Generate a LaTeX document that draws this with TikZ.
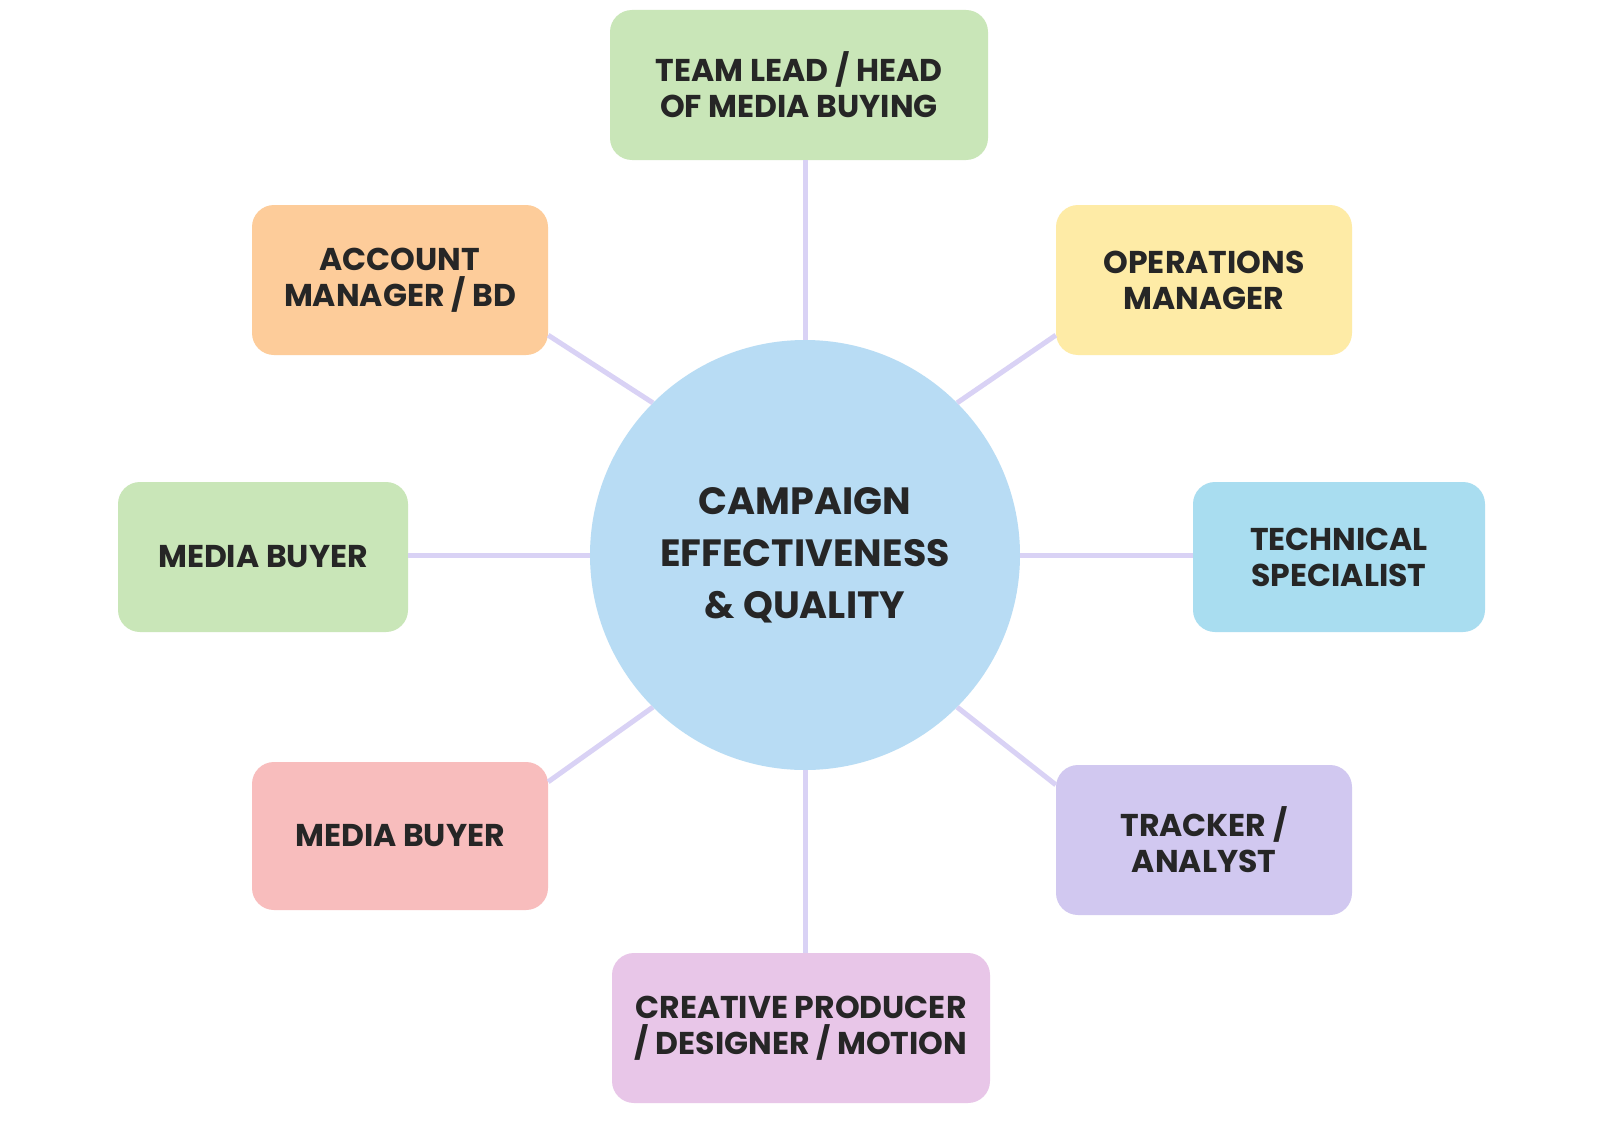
\documentclass[tikz,border=0pt]{standalone}
\usepackage{fontspec}
\setmainfont{Poppins}
\definecolor{lk}{HTML}{D9D2F5}
\definecolor{cg}{HTML}{C9E6B8}
\definecolor{co}{HTML}{FDCC9A}
\definecolor{cy}{HTML}{FEEBA6}
\definecolor{ct}{HTML}{A9DDF0}
\definecolor{cp}{HTML}{F8BDBD}
\definecolor{cl}{HTML}{D1C8F0}
\definecolor{cu}{HTML}{E8C6E8}
\definecolor{cc}{HTML}{B8DCF4}
\begin{document}
\begin{tikzpicture}[x=1pt,y=-1pt,
  box/.style={rounded corners=22pt,draw=none,align=center,font=\fontsize{31.5}{36}\selectfont\bfseries,text=black!85,inner sep=0pt},
  link/.style={draw=lk,line width=5pt}]
\path[use as bounding box,fill=white] (0,0) rectangle (1600,1145);
\node[circle,fill=cc,minimum size=430pt,align=center,inner sep=0pt,font=\fontsize{38}{52}\selectfont\bfseries,text=black!85] (c) at (805,555) {CAMPAIGN\\EFFECTIVENESS\\\& QUALITY};
\node[box,fill=cg,minimum width=378pt,minimum height=150pt] (t) at (799,85) {TEAM LEAD / HEAD\\OF MEDIA BUYING};
\node[box,fill=co,minimum width=296pt,minimum height=150pt] (a) at (400,280) {ACCOUNT\\MANAGER / BD};
\node[box,fill=cy,minimum width=296pt,minimum height=150pt] (o) at (1204,280) {OPERATIONS\\MANAGER};
\node[box,fill=cg,minimum width=290pt,minimum height=150pt] (m1) at (263,557) {MEDIA BUYER};
\node[box,fill=ct,minimum width=292pt,minimum height=150pt] (ts) at (1339,557) {TECHNICAL\\SPECIALIST};
\node[box,fill=cp,minimum width=296pt,minimum height=148pt] (m2) at (400,836) {MEDIA BUYER};
\node[box,fill=cl,minimum width=296pt,minimum height=150pt] (tr) at (1204,840) {TRACKER /\\ANALYST};
\node[box,fill=cu,minimum width=378pt,minimum height=150pt] (cr) at (801,1028) {CREATIVE PRODUCER\\/ DESIGNER / MOTION};
\draw[link] (c.north) -- (c.north |- t.south);
\draw[link] (c.south) -- (c.south |- cr.north);
\draw[link] (c.west) -- (c.west -| m1.east);
\draw[link] (c.east) -- (c.east -| ts.west);
\draw[link] (c.135) -- ([yshift=20pt]a.south east);
\draw[link] (c.45) -- ([yshift=20pt]o.south west);
\draw[link] (c.225) -- ([yshift=-20pt]m2.north east);
\draw[link] (c.-45) -- ([yshift=-20pt]tr.north west);
\end{tikzpicture}
\end{document}
